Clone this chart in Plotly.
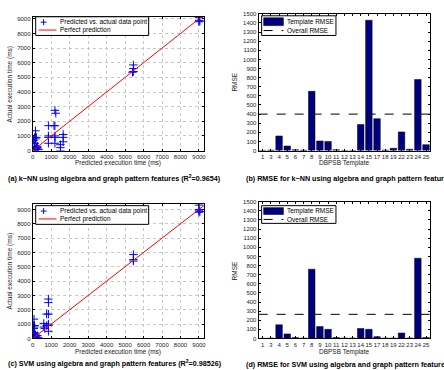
import plotly.graph_objects as go

# ---------------- data ----------------
knn_pred = [50, 100, 150, 200, 250, 300, 100, 200, 120, 150, 100, 200, 150, 50, 250, 300,
            850, 850, 850, 850,
            1200, 1250, 1150, 1200, 1200, 1200, 1200,
            1500, 1500, 1500,
            1650, 1650, 1650,
            5450, 5450, 5450, 5400,
            9000, 9000, 9000, 9000, 9050]
knn_act = [0, 50, 100, 150, 200, 100, 300, 250, 500, 800, 900, 900, 1350, 700, 300, 50,
           1700, 1000, 900, 500,
           2750, 2550, 1700, 1700, 1000, 900, 500,
           400, 200, 0,
           1100, 900, 600,
           5850, 5600, 5400, 5350,
           9300, 9100, 8900, 8800, 8850]

svm_pred = [30, 50, 80, 100, 150, 50, 100, 60, 80, 50, 100, 70, 200, 250, 150, 300,
            600, 600, 650,
            750, 750,
            850, 850, 850, 850, 850, 850,
            5450, 5450, 5450,
            9000, 9000, 9000, 9000, 9050]
svm_act = [0, 50, 100, 200, 250, 300, 400, 700, 800, 900, 900, 1350, 100, 200, 150, 50,
           1050, 800, 700,
           1700, 900,
           2750, 2500, 1700, 1000, 900, 500,
           5850, 5500, 5400,
           9300, 9000, 8900, 8800, 8850]

perfect = [0, 9500]

templates = ["1", "3", "4", "5", "6", "7", "8", "9", "10", "11", "12", "13", "14", "15",
             "17", "18", "19", "22", "23", "24", "25"]
knn_rmse = [2, 5, 160, 50, 10, 5, 650, 105, 100, 10, 0, 0, 285, 1430, 350, 5, 25, 205, 15, 780, 65]
svm_rmse = [2, 5, 150, 50, 10, 5, 760, 130, 100, 10, 5, 5, 110, 100, 20, 5, 5, 60, 5, 880, 10]
knn_overall = 400
svm_overall = 265

sc_ticks = list(range(0, 10000, 1000))
rmse_ticks = list(range(0, 1600, 100))

titles = [
    "(a) k\u2212NN using algebra and graph pattern features (R<sup>2</sup>=0.9654)",
    "(b) RMSE for k\u2212NN using algebra and graph pattern features",
    "(c) SVM using algebra and graph pattern features (R<sup>2</sup>=0.98526)",
    "(d) RMSE for SVM using algebra and graph pattern features",
]
scatter_legend = ["Predicted vs. actual data point", "Perfect prediction"]
bar_legend = ["Template RMSE", "Overall RMSE"]

# ---------------- figure ----------------
W, H = 444, 370
FONT = "Liberation Sans, Arial, sans-serif"
TICKF = dict(family=FONT, size=6, color="#222")
BLUE, RED, NAVY = "#0000ff", "#ff0000", "#00007f"

def px(x):
    return x / W

def py(y):
    return 1 - y / H

fig = go.Figure()

for (pred, act, xa, ya) in [(knn_pred, knn_act, "x", "y"), (svm_pred, svm_act, "x3", "y3")]:
    fig.add_trace(go.Scatter(x=pred, y=act, mode="markers", xaxis=xa, yaxis=ya,
                             name=scatter_legend[0],
                             marker=dict(symbol="cross-thin-open", size=6,
                                         line=dict(color=BLUE, width=1), color=BLUE)))
    fig.add_trace(go.Scatter(x=perfect, y=perfect, mode="lines", xaxis=xa, yaxis=ya,
                             name=scatter_legend[1], line=dict(color=RED, width=1)))

shapes = []
for (vals, overall, xa, ya, xref) in [(knn_rmse, knn_overall, "x2", "y2", "x2 domain"),
                                       (svm_rmse, svm_overall, "x4", "y4", "x4 domain")]:
    fig.add_trace(go.Bar(x=templates, y=vals, xaxis=xa, yaxis=ya, name=bar_legend[0],
                         width=0.8,
                         marker=dict(color=NAVY, line=dict(color="#000000", width=0.5))))
    shapes.append(dict(type="line", xref=xref, yref=ya, x0=0, x1=1, y0=overall, y1=overall,
                       line=dict(color="#000000", width=1, dash="dash")))

axis_common = dict(showline=True, linecolor="#000", linewidth=1, mirror="ticks",
                   ticks="inside", ticklen=2, tickcolor="#000", tickfont=TICKF,
                   zeroline=False)
scatter_ax = dict(axis_common, tickvals=sc_ticks, showgrid=True, gridcolor="#c8c8c8",
                  griddash="dot", gridwidth=1)

fig.update_layout(
    width=W, height=H, margin=dict(l=0, r=0, t=0, b=0),
    paper_bgcolor="white", plot_bgcolor="white",
    font=dict(family=FONT, size=6, color="#222"),
    showlegend=False,
    xaxis=dict(scatter_ax, domain=[px(31), px(204)], range=[0, 9280], anchor="y"),
    yaxis=dict(scatter_ax, domain=[py(150), py(14)], range=[0, 9140], anchor="x"),
    xaxis3=dict(scatter_ax, domain=[px(31), px(204)], range=[0, 9280], anchor="y3"),
    yaxis3=dict(scatter_ax, domain=[py(341), py(204)], range=[0, 9400], anchor="x3"),
    xaxis2=dict(axis_common, domain=[px(259), px(432)], range=[-0.5, 20.5], anchor="y2",
                type="category", showgrid=False, tickangle=0),
    yaxis2=dict(axis_common, domain=[py(150), py(11)], range=[0, 1500], tickvals=rmse_ticks,
                anchor="x2", showgrid=False),
    xaxis4=dict(axis_common, domain=[px(259), px(432)], range=[-0.5, 20.5], anchor="y4",
                type="category", showgrid=False, tickangle=0),
    yaxis4=dict(axis_common, domain=[py(341), py(202)], range=[0, 1500], tickvals=rmse_ticks,
                anchor="x4", showgrid=False),
)

ann = []
LEGF = dict(family=FONT, size=6.5, color="#000")

def pline(x0, y0, x1, y1, color, dash="solid", width=1):
    shapes.append(dict(type="line", xref="paper", yref="paper", x0=px(x0), y0=py(y0),
                       x1=px(x1), y1=py(y1), line=dict(color=color, width=width, dash=dash)))

def prect(x0, y0, x1, y1, fill, line="#000", width=1):
    shapes.append(dict(type="rect", xref="paper", yref="paper", x0=px(x0), y0=py(y0),
                       x1=px(x1), y1=py(y1), fillcolor=fill, line=dict(color=line, width=width)))

def ptext(x, y, t):
    ann.append(dict(x=px(x), y=py(y), xref="paper", yref="paper", text=t, showarrow=False,
                    font=LEGF, xanchor="left", yanchor="middle"))

# scatter legends (manual, compact like the original)
for (top, bot, r1, r2) in [(14, 33, 19.5, 27.5), (206, 225, 211.5, 219.5)]:
    prect(34, top, 148, bot, "white")
    pline(39, r1, 45, r1, BLUE)
    pline(42, r1 - 3, 42, r1 + 3, BLUE)
    ptext(57, r1, scatter_legend[0])
    pline(37, r2, 55, r2, RED)
    ptext(57, r2, scatter_legend[1])

# bar legends
for (top, bot, p0, p1, r2) in [(13, 33, 15, 23, 28), (206, 224, 208, 215, 220)]:
    prect(262, top, 337, bot, "white")
    prect(264, p0, 284, p1, NAVY, "#000", 0.5)
    ptext(286, (p0 + p1) / 2, bar_legend[0])
    pline(264, r2, 284, r2, "#000", "dash")
    ptext(286, r2, bar_legend[1])

lab = dict(family=FONT, size=6.5, color="#222")
for (x, y, t, ang) in [(117, 163, "Predicted execution time (ms)", 0),
                       (117, 355, "Predicted execution time (ms)", 0),
                       (8, 82, "Actual execution time (ms)", -90),
                       (8, 272, "Actual execution time (ms)", -90),
                       (345, 163, "DBPSB Template", 0),
                       (345, 355, "DBPSB Template", 0),
                       (235, 80, "RMSE", -90),
                       (235, 272, "RMSE", -90)]:
    ann.append(dict(x=px(x), y=py(y), xref="paper", yref="paper", text=t, textangle=ang,
                    showarrow=False, font=lab, xanchor="center", yanchor="middle"))
for (x, y, t) in [(4, 178, titles[0]), (244, 178, titles[1]),
                  (4, 366, titles[2]), (244, 367, titles[3])]:
    ann.append(dict(x=px(x), y=py(y), xref="paper", yref="paper", text="<b>" + t + "</b>",
                    showarrow=False, font=dict(family=FONT, size=7.2, color="#000"),
                    xanchor="left", yanchor="middle"))
fig.update_layout(annotations=ann, shapes=shapes)

fig.write_html("out.html")
